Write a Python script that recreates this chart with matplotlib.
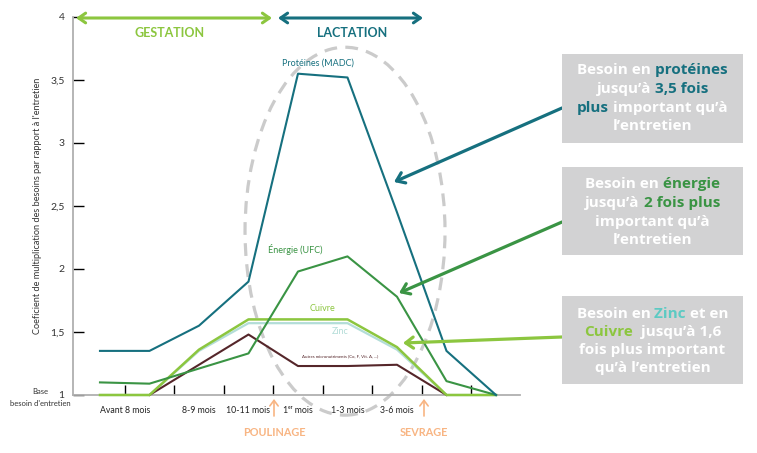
import numpy as np
import matplotlib
matplotlib.use('Agg')
import matplotlib.pyplot as plt
from matplotlib.patches import Ellipse, Rectangle

plt.rcParams['font.family'] = ['Lato', 'DejaVu Sans']

# data (coefficient vs maintenance, 9 stages)
stages = np.arange(9)
proteines = [1.35, 1.35, 1.55, 1.90, 3.55, 3.52, 2.45, 1.35, 1.00]
energie = [1.10, 1.09, 1.21, 1.33, 1.98, 2.10, 1.78, 1.11, 1.00]
cuivre = [1.00, 1.00, 1.36, 1.60, 1.60, 1.60, 1.38, 1.00, 1.00]
zinc = [1.00, 1.00, 1.35, 1.57, 1.57, 1.57, 1.36, 1.00, 1.00]
autres = [np.nan, 1.00, 1.24, 1.48, 1.23, 1.23, 1.24, 1.00, np.nan]

month_pos = [0.5, 2, 3, 4, 5, 6]
month_labels = ['Avant 8 mois', '8-9 mois', '10-11 mois', '1ᵉʳ mois', '1-3 mois', '3-6 mois']
ytick_vals = [1, 1.5, 2, 2.5, 3, 3.5, 4]
ytick_labels = ['1', '1,5', '2', '2,5', '3', '3,5', '4']

C_PROT = '#16707f'
C_ENER = '#3a9444'
C_CUIV = '#8cc63f'
C_ZINC = '#b3ddd8'
C_AUTR = '#55262a'
C_ORANGE = '#f8b583'
C_BOX = '#d2d2d3'

W, H = 757, 453
fig = plt.figure(figsize=(W / 100, H / 100), dpi=100)


def fp(x, y):
    # pixel position (origin top-left) -> figure fraction
    return (x / W, 1 - y / H)


ax = fig.add_axes([73 / W, (H - 395) / H, 447 / W, 378 / H])
ax.set_xlim(-0.545, 8.485)
ax.set_ylim(1, 4)

ax.add_patch(Ellipse((4.95, 2.30), 4.04, 2.92, fill=False, ec='#cbcbcb',
                     lw=2.3, ls=(0, (4, 2.6)), zorder=1, clip_on=False))

ax.plot(stages, zinc, color=C_ZINC, lw=1.6, zorder=3, clip_on=False)
ax.plot(stages, cuivre, color=C_CUIV, lw=1.8, zorder=4, clip_on=False)
ax.plot(stages, autres, color=C_AUTR, lw=1.5, zorder=3, clip_on=False)
ax.plot(stages, energie, color=C_ENER, lw=1.5, zorder=5, clip_on=False)
ax.plot(stages, proteines, color=C_PROT, lw=1.5, zorder=6, clip_on=False)

ax.text(4.4, 3.60, 'Protéines (MADC)', color=C_PROT, fontsize=6.5, ha='center', va='bottom')
ax.text(3.95, 2.11, 'Énergie (UFC)', color=C_ENER, fontsize=6.5, ha='center', va='bottom')
ax.text(4.5, 1.65, 'Cuivre', color=C_CUIV, fontsize=6.5, ha='center', va='bottom')
ax.text(4.85, 1.47, 'Zinc', color=C_ZINC, fontsize=6.5, ha='center', va='bottom')
ax.text(4.85, 1.29, 'Autres micronutriments (Co, F, Vit. A, ...)', color=C_AUTR,
        fontsize=3.2, ha='center', va='bottom')

# axes style
for s in ['top', 'right']:
    ax.spines[s].set_visible(False)
ax.spines['left'].set_color('#b0b0b0')
ax.spines['left'].set_linewidth(1.3)
ax.spines['bottom'].set_color('#b0b0b0')
ax.spines['bottom'].set_linewidth(1.3)

ax.xaxis.remove_overlapping_locs = False
ax.set_xticks(np.arange(8) + 0.5)
ax.set_xticklabels([])
ax.tick_params(axis='x', which='major', direction='in', length=7, width=1)
tick_cols = ['#aaaaaa', '#333333', '#333333', '#333333', '#aaaaaa', '#aaaaaa', '#aaaaaa', '#333333']
for t, c in zip(ax.xaxis.get_major_ticks(), tick_cols):
    t.tick1line.set_color(c)
ax.set_xticks(month_pos, month_labels, minor=True)
ax.tick_params(axis='x', which='minor', length=0, pad=8, labelsize=6.3, labelcolor='#222222')

ax.set_yticks(ytick_vals, ytick_labels)
ax.tick_params(axis='y', direction='in', length=8, width=1, labelsize=7.5,
               labelcolor='#333333', pad=6)
ycols = ['#aaaaaa', '#333333', '#333333', '#aaaaaa', '#aaaaaa', '#aaaaaa', '#ffffff']
for t, c in zip(ax.yaxis.get_major_ticks(), ycols):
    t.tick1line.set_color(c)

ax.set_ylabel("Coeficient de multiplication des besoins par rapport à l'entretien",
              fontsize=6.6, color='#333333')
ax.yaxis.set_label_coords(-0.069, 0.5)

fig.text(*fp(40, 391), 'Base', fontsize=5.5, ha='center', va='center', color='#333333')
fig.text(*fp(40, 403), "besoin d'entretien", fontsize=5.5, ha='center', va='center', color='#333333')

# phases at the top
ax.annotate('', xy=fp(76, 18), xytext=fp(272, 18), xycoords='figure fraction',
            arrowprops=dict(arrowstyle='<->,head_length=0.5,head_width=0.35', color=C_CUIV,
                            lw=2.2, shrinkA=0, shrinkB=0))
ax.annotate('', xy=fp(278, 18), xytext=fp(423, 18), xycoords='figure fraction',
            arrowprops=dict(arrowstyle='<->,head_length=0.5,head_width=0.35', color=C_PROT,
                            lw=2.2, shrinkA=0, shrinkB=0))
fig.text(*fp(170, 33), 'GESTATION', color=C_CUIV, fontsize=9, fontweight='bold', ha='center', va='center')
fig.text(*fp(352, 33), 'LACTATION', color=C_PROT, fontsize=9, fontweight='bold', ha='center', va='center')

# poulinage / sevrage
for xpx, lab in [(274, 'POULINAGE'), (424, 'SEVRAGE')]:
    ax.annotate('', xy=fp(xpx, 399), xytext=fp(xpx, 416), xycoords='figure fraction',
                arrowprops=dict(arrowstyle='->,head_length=0.4,head_width=0.3', color=C_ORANGE,
                                lw=1.2, shrinkA=0, shrinkB=0))
    fig.text(*fp(xpx, 432), lab, color=C_ORANGE, fontsize=7.8, fontweight='bold', ha='center', va='center')

# callout boxes
boxes = [(54, 143), (167, 255), (296, 384)]
for top, bot in boxes:
    fig.add_artist(Rectangle(fp(562, bot), 181 / W, (bot - top) / H, transform=fig.transFigure,
                             fc=C_BOX, ec='none', zorder=1))

arrows = [((562, 108), (394, 182), C_PROT), ((562, 222), (399, 293), C_ENER),
          ((562, 337), (403, 343), C_CUIV)]
for start, end, c in arrows:
    ax.annotate('', xy=fp(*end), xytext=fp(*start), xycoords='figure fraction',
                arrowprops=dict(arrowstyle='->,head_length=0.55,head_width=0.4', color=c,
                                lw=2.3, shrinkA=0, shrinkB=0), zorder=7)

WH = 'white'
box_lines = [
    (70, [('Besoin en', WH), (' protéines', C_PROT)]),
    (89, [("jusqu’à", WH), (' 3,5 fois', C_PROT)]),
    (108, [('plus', C_PROT), (" important qu’à", WH)]),
    (126, [("l’entretien", WH)]),
    (184, [('Besoin en', WH), (' énergie', C_ENER)]),
    (203, [("jusqu’à", WH), (' 2 fois plus', C_ENER)]),
    (222, [("important qu’à", WH)]),
    (240, [("l’entretien", WH)]),
    (314, [('Besoin en', WH), (' Zinc', '#5ccac3'), (' et en', WH)]),
    (332, [('Cuivre', C_CUIV), ("  jusqu’à 1,6", WH)]),
    (350, [('fois plus important', WH)]),
    (368, [("qu’à l’entretien", WH)]),
]

renderer = fig.canvas.get_renderer()
for ypx, parts in box_lines:
    texts = []
    for s, c in parts:
        t = fig.text(0, fp(0, ypx)[1], s, color=c, fontsize=11, fontweight='bold',
                     family=['Open Sans', 'DejaVu Sans'], ha='left', va='center', zorder=2)
        texts.append(t)
    widths = [t.get_window_extent(renderer).width for t in texts]
    cur = 652.5 - sum(widths) / 2
    for t, w in zip(texts, widths):
        t.set_x(cur / W)
        cur += w

fig.savefig('out.png', dpi=100)
